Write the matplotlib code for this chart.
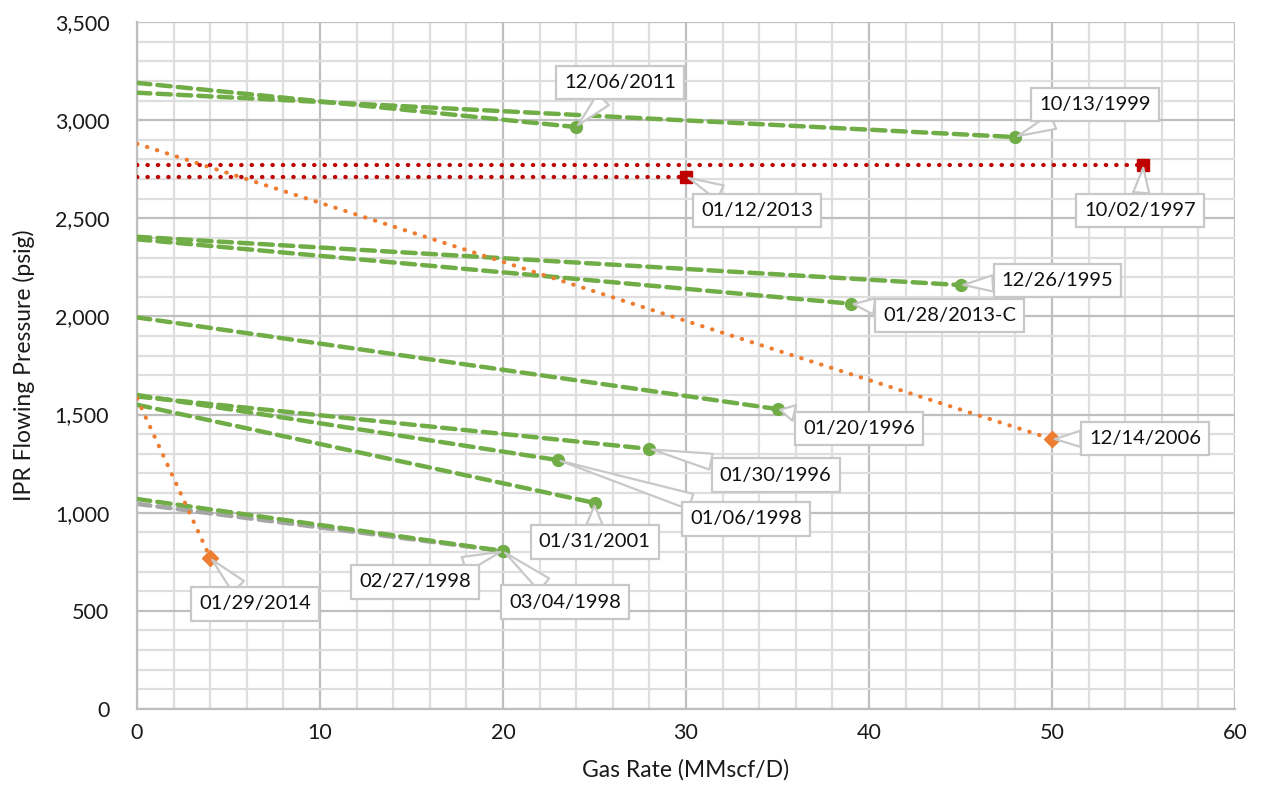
import matplotlib
matplotlib.use("Agg")
import matplotlib.pyplot as plt
from matplotlib.ticker import MultipleLocator, FuncFormatter

plt.rcParams['font.family'] = ['Lato', 'DejaVu Sans']

# ---- data: each IPR line runs from (0, p_start) to (q_end, p_end) ----
green_labels = ["12/06/2011", "10/13/1999", "12/26/1995", "01/28/2013-C", "01/20/1996",
                "01/30/1996", "01/06/1998", "01/31/2001", "03/04/1998"]
green_pstart = [3190, 3140, 2406, 2393, 1995, 1592, 1600, 1550, 1070]
green_qend = [24, 48, 45, 39, 35, 28, 23, 25, 20]
green_pend = [2965, 2914, 2160, 2065, 1528, 1325, 1268, 1050, 805]

gray_labels = ["02/27/1998"]
gray_pstart = [1045]
gray_qend = [20]
gray_pend = [805]

orange_labels = ["12/14/2006", "01/29/2014"]
orange_pstart = [2880, 1582]
orange_qend = [50, 4]
orange_pend = [1375, 770]

red_labels = ["10/02/1997", "01/12/2013"]
red_pstart = [2772, 2712]
red_qend = [55, 30]
red_pend = [2772, 2712]

# label box positions (data coords)
label_pos = {
    "12/06/2011": (26.4, 3194), "10/13/1999": (52.35, 3082),
    "01/12/2013": (33.9, 2542), "10/02/1997": (54.8, 2542),
    "12/26/1995": (50.3, 2185), "01/28/2013-C": (44.4, 2007),
    "01/20/1996": (39.45, 1431), "12/14/2006": (55.1, 1380),
    "01/30/1996": (34.9, 1192), "01/06/1998": (33.3, 968),
    "01/31/2001": (25.0, 851), "02/27/1998": (15.2, 647),
    "03/04/1998": (23.4, 545), "01/29/2014": (6.45, 535),
}

GREEN = "#70AD47"
ORANGE = "#ED7D31"
RED = "#C00000"
GRAY = "#A5A5A5"

fig = plt.figure(figsize=(12.62, 7.88), dpi=100)
ax = fig.add_axes([0.1086, 0.1003, 0.87, 0.8717])

ax.set_xlim(0, 60)
ax.set_ylim(0, 3500)
ax.xaxis.set_major_locator(MultipleLocator(10))
ax.xaxis.set_minor_locator(MultipleLocator(2))
ax.yaxis.set_major_locator(MultipleLocator(500))
ax.yaxis.set_minor_locator(MultipleLocator(100))
ax.yaxis.set_major_formatter(FuncFormatter(lambda v, p: f"{int(v):,}"))
ax.grid(which='minor', color='#DEDEDE', lw=1.6, zorder=0)
ax.grid(which='major', color='#BFBFBF', lw=1.6, zorder=0.5)
ax.set_axisbelow(True)
ax.tick_params(which='both', length=0)
ax.tick_params(axis='y', labelsize=15.5, labelcolor='#1a1a1a', pad=20)
ax.tick_params(axis='x', labelsize=15.5, labelcolor='#1a1a1a', pad=10)
for s in ['top', 'right']:
    ax.spines[s].set_visible(False)
for s in ['left', 'bottom']:
    ax.spines[s].set_color('#BFBFBF')
    ax.spines[s].set_linewidth(1.6)

ax.set_xlabel("Gas Rate (MMscf/D)", fontsize=16.5, color='#1a1a1a', labelpad=12)
ax.set_ylabel("IPR Flowing Pressure (psig)", fontsize=16.5, color='#1a1a1a', labelpad=14)

points = {}

def draw(labels, p0, q1, p1, color, ls, lw, marker, ms, z):
    for lab, a, q, b in zip(labels, p0, q1, p1):
        ax.plot([0, q], [a, b], color=color, ls=ls, lw=lw, dash_capstyle='round',
                solid_capstyle='round', zorder=z)
        ax.plot([q], [b], marker=marker, color=color, ms=ms, ls='none', zorder=z + 0.1,
                clip_on=False)
        points[lab] = (q, b)

draw(gray_labels, gray_pstart, gray_qend, gray_pend, GRAY, (0, (3, 1.6)), 3.2, 'o', 8.5, 2)
draw(green_labels, green_pstart, green_qend, green_pend, GREEN, (0, (3, 1.6)), 3.2, 'o', 8.5, 3)
draw(orange_labels, orange_pstart, orange_qend, orange_pend, ORANGE, (0, (0.1, 2.4)), 3.0, 'D', 8.5, 4)
draw(red_labels, red_pstart, red_qend, red_pend, RED, (0, (0.1, 2.4)), 3.0, 's', 9, 4)

for lab, (tx, ty) in label_pos.items():
    ax.annotate(lab, xy=points[lab], xytext=(tx, ty), textcoords='data',
                ha='center', va='center', fontsize=14.5, color='#111111', zorder=10,
                bbox=dict(boxstyle='square,pad=0.4', fc='white', ec='#C8C8C8', lw=1.6),
                arrowprops=dict(arrowstyle='wedge,tail_width=0.8,shrink_factor=0.5',
                                fc='white', ec='#C8C8C8', lw=1.6,
                                shrinkA=0, shrinkB=2),
                annotation_clip=False)

fig.savefig("out.png", dpi=100)
